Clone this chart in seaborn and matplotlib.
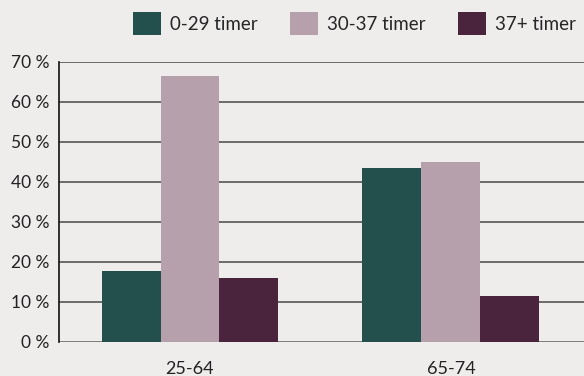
import matplotlib
matplotlib.use("Agg")
import matplotlib.pyplot as plt
from matplotlib.patches import Patch
import seaborn as sns
import pandas as pd

age_groups = ["25-64", "65-74"]
hour_groups = ["0-29 timer", "30-37 timer", "37+ timer"]
share_0_29 = [17.75, 43.5]
share_30_37 = [66.5, 45.0]
share_37_plus = [16.0, 11.5]
y_ticks = [0, 10, 20, 30, 40, 50, 60, 70]
colors = ["#234f4d", "#b5a0ab", "#4a233d"]
bg = "#efecec"

df = pd.DataFrame({
    "alder": age_groups * 3,
    "timer": [h for h in hour_groups for _ in age_groups],
    "andel": share_0_29 + share_30_37 + share_37_plus,
})

sns.set_theme(style="white")
plt.rcParams["font.family"] = ["Lato", "DejaVu Sans"]

fig = plt.figure(figsize=(5.84, 3.76), dpi=100, facecolor=bg)
ax = fig.add_axes([59 / 584, 1 - 342 / 376, (584 - 59) / 584, 280 / 376])
ax.set_facecolor(bg)

for t in y_ticks:
    ax.axhline(t, color="#555555" if t else "#6a6a6a", lw=1.2, zorder=0)

sns.barplot(data=df, x="alder", y="andel", hue="timer", hue_order=hour_groups,
            palette=colors, width=0.678, gap=0, saturation=1, ax=ax,
            legend=False, zorder=2, linewidth=0)

ax.set_xlim(-0.502, 1.51)
ax.set_ylim(0, 70)
ax.set_yticks(y_ticks)
ax.set_yticklabels([f"{t} %" for t in y_ticks], fontsize=12.5, color="#222222")
ax.tick_params(axis="y", length=0, pad=7)
ax.tick_params(axis="x", length=0, pad=14, labelsize=13, labelcolor="#222222")
ax.set_xlabel("")
ax.set_ylabel("")
for s in ["top", "right", "bottom"]:
    ax.spines[s].set_visible(False)
ax.spines["left"].set_color("#111111")
ax.spines["left"].set_linewidth(1.2)
ax.spines["left"].set_zorder(3)

handles = [Patch(facecolor=c, edgecolor="none") for c in colors]
fig.legend(handles, hour_groups, loc="upper right", bbox_to_anchor=(1.0, 0.99),
           ncol=3, frameon=False, fontsize=13.5, handlelength=1.5,
           handleheight=1.5, handletextpad=0.45, columnspacing=1.75,
           borderaxespad=0.05)

fig.savefig("out.png", dpi=100, facecolor=bg)
